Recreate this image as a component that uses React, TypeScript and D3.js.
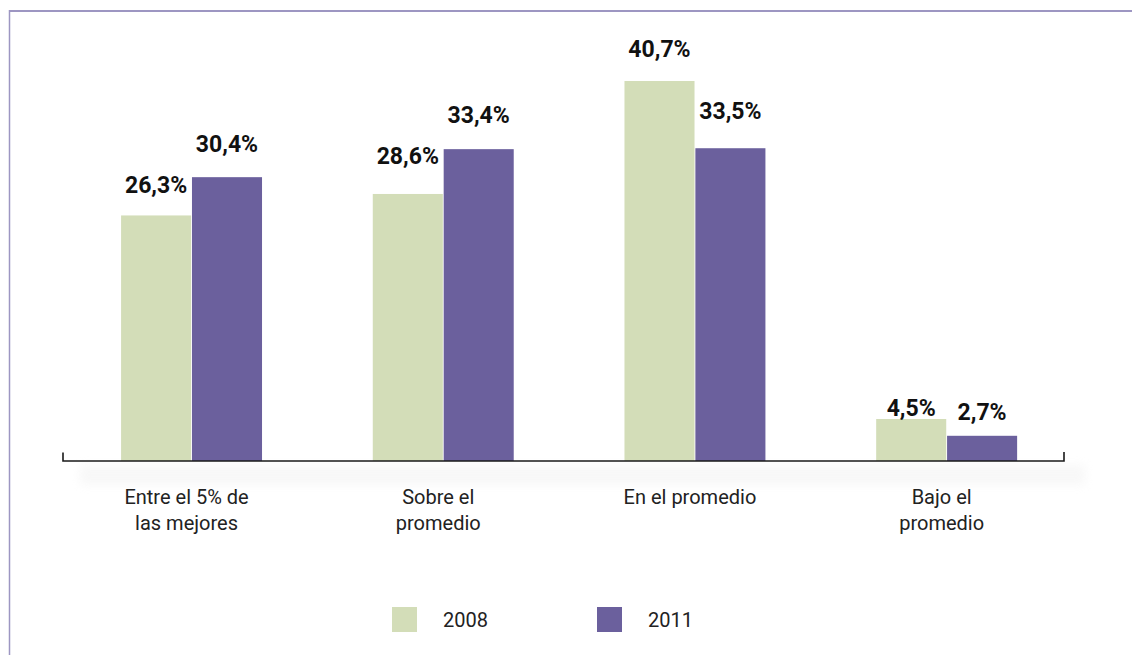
import React from "react";
import * as d3 from "d3";

// ---- data ----
const categories: string[][] = [
  ["Entre el 5% de", "las mejores"],
  ["Sobre el", "promedio"],
  ["En el promedio"],
  ["Bajo el", "promedio"],
];
const seriesNames: string[] = ["2008", "2011"];
const values2008: number[] = [26.3, 28.6, 40.7, 4.5];
const values2011: number[] = [30.4, 33.4, 33.5, 2.7];

// ---- layout / style constants ----
const W = 1132;
const H = 655;
const BASE_Y = 461;
const TOP_Y = 81;
const colors = ["#d3ddb8", "#6b609d"];
const frameColor = "#9d96c2";
// label lift (px above bar top) per category/series, as in the reference's manual placement
const labelLift: number[][] = [
  [22, 25],
  [30, 26],
  [24, 29],
  [3, 16],
];

const fmt = (v: number) => v.toFixed(1).replace(".", ",") + "%";

export default function App() {
  const keys = categories.map((_, i) => String(i));
  const x0 = d3
    .scaleBand<string>()
    .domain(keys)
    .range([65.7, 1072.5])
    .paddingInner(0.44)
    .paddingOuter(0.22);
  const x1 = d3
    .scaleBand<string>()
    .domain(seriesNames)
    .range([0, x0.bandwidth()])
    .paddingInner(0.012);
  const y = d3.scaleLinear().domain([0, 40.7]).range([BASE_Y, TOP_Y]);

  const series = [values2008, values2011];

  const axisLeft = 63;
  const axisRight = 1064;

  return (
    <svg
      width={W}
      height={H}
      style={{ position: "absolute", left: 0, top: 0, background: "#fff" }}
      fontFamily="Roboto, 'Open Sans', sans-serif"
    >
      <defs>
        <filter id="sh" x="-5%" y="-100%" width="110%" height="300%">
          <feGaussianBlur stdDeviation="5" />
        </filter>
      </defs>
      {/* frame */}
      <line x1={9.5} x2={9.5} y1={10} y2={H} stroke={frameColor} strokeWidth={1.5} />
      <line x1={9} x2={W} y1={11} y2={11} stroke={frameColor} strokeWidth={2.2} />

      {/* shadow under axis */}
      <rect x={80} y={465} width={1005} height={20} fill="#e8e8e8" opacity={0.3} filter="url(#sh)" />

      {/* bars */}
      {keys.map((k, i) => (
        <g key={k} transform={`translate(${x0(k)},0)`}>
          {seriesNames.map((s, j) => {
            const v = series[j][i];
            return (
              <rect
                key={s}
                x={x1(s)}
                y={y(v)}
                width={x1.bandwidth()}
                height={BASE_Y - y(v)}
                fill={colors[j]}
              />
            );
          })}
        </g>
      ))}

      {/* value labels */}
      {keys.map((k, i) => (
        <g key={"l" + k}>
          {seriesNames.map((s, j) => {
            const v = series[j][i];
            const cx = (x0(k) as number) + (x1(s) as number) + x1.bandwidth() / 2;
            return (
              <text
                key={s}
                x={cx}
                y={y(v) - labelLift[i][j]}
                textAnchor="middle"
                fontSize={23}
                fontWeight={700}
                fill="#111"
              >
                {fmt(v)}
              </text>
            );
          })}
        </g>
      ))}

      {/* axis */}
      <path
        d={`M${axisLeft},${BASE_Y - 8.5}V${BASE_Y}H${axisRight}V${BASE_Y - 9}`}
        fill="none"
        stroke="#1a1a1a"
        strokeWidth={1.6}
      />

      {/* category labels */}
      {keys.map((k, i) => {
        const cx = (x0(k) as number) + x0.bandwidth() / 2 - 5;
        return (
          <text key={"c" + k} textAnchor="middle" fontSize={20} fill="#222">
            {categories[i].map((line, li) => (
              <tspan key={li} x={cx} y={504 + li * 26}>
                {line}
              </tspan>
            ))}
          </text>
        );
      })}

      {/* legend */}
      {seriesNames.map((s, j) => (
        <g key={"lg" + s} transform={`translate(${392 + j * 205},607)`}>
          <rect width={25} height={25} fill={colors[j]} />
          <text x={51} y={20} fontSize={20} fill="#222">
            {s}
          </text>
        </g>
      ))}
    </svg>
  );
}
